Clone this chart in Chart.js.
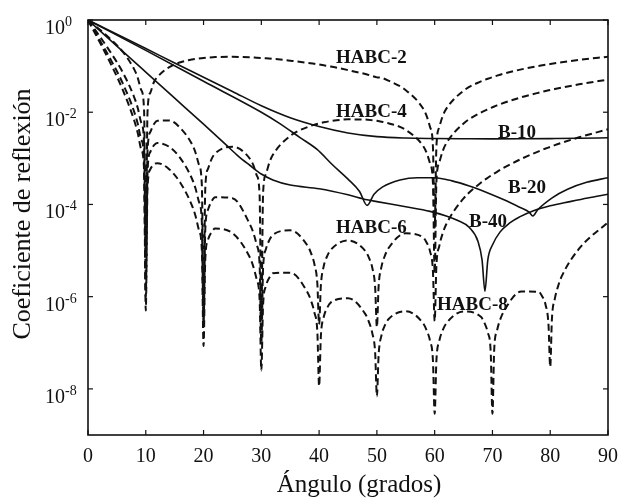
<!DOCTYPE html>
<html>
<head>
<meta charset="utf-8">
<script src="https://cdn.jsdelivr.net/npm/chart.js@4.4.0/dist/chart.umd.min.js"></script>
<style>html,body{margin:0;padding:0;background:#fff}canvas{display:block}</style>
</head>
<body>
<canvas id="c" width="623" height="502"></canvas>
<script>
// ---- data ----
const angles = [0,2,4,6,8,9.2,10,10.8,12,14,16,18,19.2,20,20.8,22,25,28,29.2,30,30.8,32,35,38,39.2,40,40.8,42,45,48,49.2,50,50.8,52,55,58,59.2,60,60.8,62,65,68,69.2,70,70.8,72,75,78,79.2,80,80.8,82,85,90];
const habc2 = [1,6.24e-1,3.75e-1,2.05e-1,8.49e-2,3.06e-2,1e-5,2.67e-2,5.77e-2,9.36e-2,
  1.21e-1,1.39e-1,1.46e-1,1.50e-1,1.53e-1,1.57e-1,1.59e-1,1.55e-1,1.52e-1,1.50e-1,
  1.48e-1,1.44e-1,1.31e-1,1.18e-1,1.12e-1,1.08e-1,1.04e-1,9.81e-2,8.19e-2,6.73e-2,
  6.10e-2,5.70e-2,5.57e-2,4.84e-2,3.01e-2,1.20e-2,4.78e-3,3.16e-5,4.75e-3,1.18e-2,
  2.93e-2,4.65e-2,5.32e-2,5.77e-2,6.21e-2,6.87e-2,8.49e-2,1.01e-1,1.07e-1,1.11e-1,
  1.15e-1,1.21e-1,1.36e-1,1.60e-1];
const habc4 = [1,4.47e-1,1.91e-1,7.35e-2,2.11e-2,6.01e-3,3.16e-6,3.76e-3,6.50e-3,6.65e-3,
  4.52e-3,2.02e-3,7.26e-4,1e-6,6.04e-4,1.27e-3,1.79e-3,9.91e-4,4.28e-4,3.16e-7,
  4.58e-4,1.19e-3,3.07e-3,4.78e-3,5.37e-3,5.71e-3,6.03e-3,6.43e-3,7.00e-3,6.92e-3,
  6.70e-3,6.50e-3,6.24e-3,5.77e-3,4.13e-3,1.85e-3,7.73e-4,3.16e-6,8.15e-4,2.11e-3,
  5.71e-3,9.84e-3,1.16e-2,1.28e-2,1.41e-2,1.60e-2,2.11e-2,2.65e-2,2.88e-2,3.03e-2,
  3.18e-2,3.42e-2,4.03e-2,5.09e-2];
const habc6 = [1,3.73e-1,1.33e-1,4.27e-2,1.02e-2,2.59e-3,1e-6,1.39e-3,2.14e-3,1.80e-3,
  9.98e-4,3.61e-4,1.14e-4,2.51e-7,7.87e-5,1.44e-4,1.37e-4,3.75e-5,1.33e-5,1e-7,
  1.08e-5,2.20e-5,2.74e-5,1.27e-5,4.99e-6,2.51e-7,4.59e-6,1.03e-5,1.65e-5,9.80e-6,
  4.23e-6,2.19e-7,4.48e-6,1.12e-5,2.36e-5,1.92e-5,9.58e-6,2.95e-7,1.25e-5,3.71e-5,
  1.35e-4,2.96e-4,3.80e-4,4.43e-4,5.11e-4,6.26e-4,9.73e-4,1.42e-3,1.63e-3,1.77e-3,
  1.93e-3,2.17e-3,2.86e-3,4.26e-3];
const habc8 = [1,3.35e-1,1.08e-1,3.09e-2,6.62e-3,1.58e-3,5.01e-7,5.84e-4,7.84e-4,5.90e-4,
  2.93e-4,9.45e-5,2.78e-5,8.51e-8,1.76e-5,2.99e-5,2.39e-5,7.14e-6,2.35e-6,2.51e-8,
  1.71e-6,3.23e-6,3.30e-6,1.23e-6,4.44e-7,1.15e-8,3.61e-7,7.42e-7,9.24e-7,4.19e-7,
  1.62e-7,6.92e-9,1.46e-7,3.23e-7,4.83e-7,2.64e-7,1.10e-7,2.88e-9,1.10e-7,2.62e-7,
  4.77e-7,3.66e-7,1.66e-7,2.88e-9,1.86e-7,4.89e-7,1.29e-6,1.28e-6,6.62e-7,3.02e-8,
  9.04e-7,2.78e-6,1.10e-5,4.11e-5];

// extra readings close to each null (narrow cusps)
const habc2NullAngles = [8.6,9.7,10.3,11.4, 58.6,59.7,60.3,61.4];
const habc2Null = [5.64e-2,1.15e-2,1.00e-2,4.46e-2, 8.37e-3,1.79e-3,1.78e-3,8.30e-3];
const habc4NullAngles = [8.6,9.7,10.3,11.4, 18.6,19.7,20.3,21.4, 28.6,29.7,30.3,31.4, 58.6,59.7,60.3,61.4];
const habc4Null = [1.25e-2,2.25e-3,1.41e-3,5.47e-3, 1.34e-3,2.72e-4,2.26e-4,9.70e-4,
  7.20e-4,1.60e-4,1.72e-4,8.17e-4, 1.32e-3,2.90e-4,3.05e-4,1.45e-3];
const habc6NullAngles = [8.6,9.7,10.3,11.4, 18.6,19.7,20.3,21.4, 28.6,29.7,30.3,31.4,
  38.6,39.7,40.3,41.4, 48.6,49.7,50.3,51.4, 58.6,59.7,60.3,61.4];
const habc6Null = [5.69e-3,9.72e-4,5.22e-4,1.91e-3, 2.24e-4,4.27e-5,2.95e-5,1.18e-4,
  2.47e-5,5.00e-6,4.04e-6,1.70e-5, 8.82e-6,1.87e-6,1.72e-6,7.60e-6,
  7.11e-6,1.59e-6,1.68e-6,7.83e-6, 1.50e-5,3.59e-6,4.67e-6,2.38e-5];
const habc8NullAngles = [8.6,9.7,10.3,11.4, 18.6,19.7,20.3,21.4, 28.6,29.7,30.3,31.4,
  38.6,39.7,40.3,41.4, 48.6,49.7,50.3,51.4, 58.6,59.7,60.3,61.4,
  68.6,69.7,70.3,71.4, 78.6,79.7,80.3,81.4];
const habc8Null = [3.58e-3,5.93e-4,2.19e-4,7.42e-4, 5.68e-5,1.04e-5,6.58e-6,2.53e-5,
  4.53e-6,8.82e-7,6.41e-7,2.60e-6, 8.19e-7,1.67e-7,1.36e-7,5.73e-7,
  2.88e-7,6.08e-8,5.48e-8,2.41e-7, 1.88e-7,4.13e-8,4.12e-8,1.88e-7,
  2.73e-7,6.24e-8,7.00e-8,3.34e-7, 1.02e-6,2.48e-7,3.39e-7,1.75e-6];

const b10Angles = [0,5,10,15,20,25,30,35,40,45,50,55,60,65,70,75,80,85,90];
const b10 = [1,4.90e-1,2.40e-1,1.17e-1,5.75e-2,2.82e-2,1.38e-2,7.59e-3,4.90e-3,3.55e-3,2.95e-3,2.75e-3,2.69e-3,2.66e-3,2.64e-3,2.65e-3,2.68e-3,2.72e-3,2.79e-3];

const b20Angles = [0,10,20,30,33,36.7,39.6,42.4,45,47,48.3,49.5,51,54,57,60,63,66,69,72,74.7,76.3,77,77.8,80.4,83,86.3,90];
const b20 = [1,2.19e-1,4.68e-2,1.00e-2,5.89e-3,2.82e-3,1.58e-3,7.08e-4,3.55e-4,1.91e-4,
  9.55e-5,1.66e-4,2.40e-4,3.39e-4,3.80e-4,3.78e-4,3.24e-4,2.51e-4,1.82e-4,1.26e-4,
  8.71e-5,6.92e-5,5.62e-5,7.59e-5,1.41e-4,2.14e-4,3.02e-4,3.80e-4];

const b40Angles = [0,5,10,15,20,24,26,28,30,32,35,40,45,48.3,50,55,59.2,62,64,66,67.5,68.2,68.7,69.2,70,71.3,73,74.7,77,80,83.4,86.5,90];
const b40 = [1,2.72e-1,7.41e-2,2.02e-2,5.50e-3,1.91e-3,1.12e-3,7.08e-4,4.57e-4,3.39e-4,
  2.63e-4,2.19e-4,1.62e-4,1.26e-4,1.15e-4,8.91e-5,7.08e-5,5.62e-5,4.47e-5,3.16e-5,
  1.58e-5,6.31e-6,1.32e-6,6.31e-6,1.32e-5,2.51e-5,3.98e-5,5.37e-5,7.24e-5,9.33e-5,
  1.15e-4,1.38e-4,1.66e-4];

const xTicks = [0,10,20,30,40,50,60,70,80,90];
const yTickValues = [1,1e-2,1e-4,1e-6,1e-8];
const yTickExps = ['0','-2','-4','-6','-8'];
const seriesNames = ['HABC-2','HABC-4','HABC-6','HABC-8','B-10','B-20','B-40'];
const xTitle = 'Ángulo (grados)';
const yTitle = 'Coeficiente de reflexión';

// ---- chart ----
const ink = '#111';
function pts(xs, ys){ return xs.map((v,i)=>({x:v, y:ys[i]})); }
function merged(xs, ys, xs2, ys2){
  return pts(xs, ys).concat(pts(xs2, ys2)).sort((p,q)=>p.x-q.x);
}
function dashed(name, data){
  return {label:name, data:data, borderColor:ink, borderWidth:2,
    borderDash:[7,4], pointRadius:0, cubicInterpolationMode:'monotone', fill:false};
}
function solid(name, xs, ys){
  return {label:name, data:pts(xs, ys), borderColor:ink, borderWidth:1.6,
    pointRadius:0, cubicInterpolationMode:'monotone', fill:false};
}

const labelPos = {
  'HABC-2':[336,63], 'HABC-4':[336,117], 'HABC-6':[336,233], 'HABC-8':[437,310],
  'B-10':[498,138], 'B-20':[508,193], 'B-40':[469,227]
};

const decor = {
  id:'decor',
  beforeDraw(chart){
    const c = chart.ctx; c.save(); c.fillStyle='#fff'; c.fillRect(0,0,chart.width,chart.height); c.restore();
  },
  afterDraw(chart){
    const {ctx, chartArea:a, scales:{x,y}} = chart;
    ctx.save();
    ctx.strokeStyle = ink; ctx.fillStyle = ink;
    ctx.lineWidth = 1.6;
    ctx.strokeRect(a.left, a.top, a.right-a.left, a.bottom-a.top);
    ctx.lineWidth = 1.2;
    const seg=(x1,y1,x2,y2)=>{ctx.beginPath();ctx.moveTo(x1,y1);ctx.lineTo(x2,y2);ctx.stroke();};
    xTicks.forEach(v=>{const p=x.getPixelForValue(v); seg(p,a.bottom,p,a.bottom-5); seg(p,a.top,p,a.top+5);});
    yTickValues.forEach(v=>{const p=y.getPixelForValue(v); seg(a.left,p,a.left+5,p); seg(a.right,p,a.right-5,p);});
    ctx.font = '20px "Liberation Serif"'; ctx.textAlign='center'; ctx.textBaseline='alphabetic';
    xTicks.forEach(v=>ctx.fillText(String(v), x.getPixelForValue(v), 462));
    ctx.textAlign='left';
    yTickValues.forEach((v,i)=>{
      const p = y.getPixelForValue(v);
      ctx.font = '20px "Liberation Serif"';
      ctx.fillText('10', 45, p+14);
      const w = ctx.measureText('10').width;
      ctx.font = '14px "Liberation Serif"';
      ctx.fillText(yTickExps[i], 45+w, p+6);
    });
    ctx.font = '25px "Liberation Serif"'; ctx.textAlign='center';
    ctx.fillText(xTitle, 359, 492);
    ctx.save();
    ctx.translate(30, 214); ctx.rotate(-Math.PI/2);
    ctx.font = '26px "Liberation Serif"';
    ctx.fillText(yTitle, 0, 0);
    ctx.restore();
    ctx.font = 'bold 19px "Liberation Serif"'; ctx.textAlign='left';
    seriesNames.forEach(n=>{const p=labelPos[n]; ctx.fillText(n, p[0], p[1]);});
    ctx.restore();
  }
};

new Chart(document.getElementById('c'), {
  type:'line',
  data:{datasets:[
    dashed(seriesNames[0], merged(angles, habc2, habc2NullAngles, habc2Null)),
    dashed(seriesNames[1], merged(angles, habc4, habc4NullAngles, habc4Null)),
    dashed(seriesNames[2], merged(angles, habc6, habc6NullAngles, habc6Null)),
    dashed(seriesNames[3], merged(angles, habc8, habc8NullAngles, habc8Null)),
    solid(seriesNames[4], b10Angles, b10),
    solid(seriesNames[5], b20Angles, b20),
    solid(seriesNames[6], b40Angles, b40)
  ]},
  options:{
    responsive:false, animation:false, devicePixelRatio:1, events:[],
    layout:{padding:{left:88, right:15, top:20, bottom:67}},
    plugins:{legend:{display:false}, tooltip:{enabled:false}},
    scales:{
      x:{type:'linear', min:0, max:90, display:false},
      y:{type:'logarithmic', min:1e-9, max:1, display:false}
    }
  },
  plugins:[decor]
});
</script>
</body>
</html>
